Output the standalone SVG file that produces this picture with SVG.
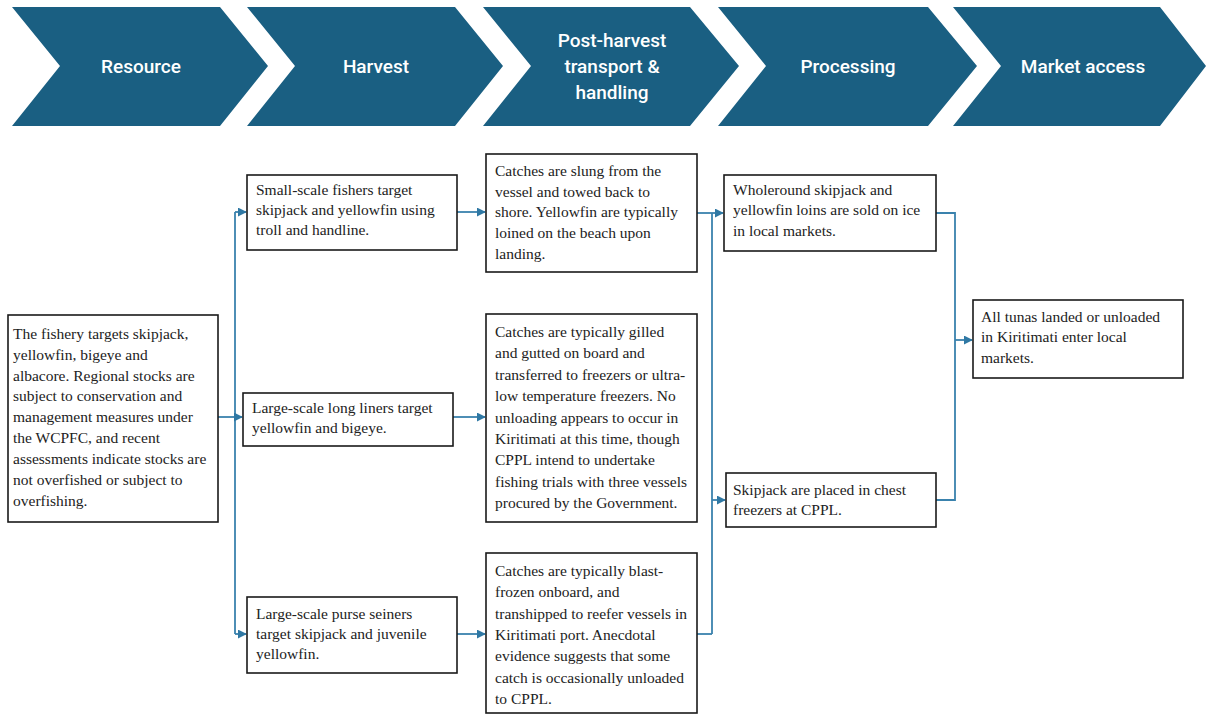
<svg xmlns="http://www.w3.org/2000/svg" width="1206" height="715" viewBox="0 0 1206 715">
  <style>
    .chev { fill: #1a5f82; }
    .stage { fill: #ffffff; font-family: Roboto, "Open Sans", sans-serif; font-weight: 500; font-size: 19px; text-anchor: middle; }
    .box { fill: #ffffff; stroke: #1a1a1a; stroke-width: 1.6; }
    .txt { fill: #222222; font-family: "Liberation Serif", "Times New Roman", serif; font-size: 15.5px; }
    .link { fill: none; stroke: #3a82ad; stroke-width: 1.8; }
  </style>
  <defs>
    <marker id="arrow" viewBox="0 0 10 10" refX="9" refY="5" markerWidth="5" markerHeight="5" orient="auto" markerUnits="strokeWidth">
      <path d="M0,0 L10,5 L0,10 Z" fill="#2f78a4"/>
    </marker>
  </defs>

  <rect width="1206" height="715" fill="#ffffff"/>

  <!-- value-chain stages -->
  <g id="stage-resource">
    <polygon class="chev" points="12,7 220,7 268,66 220,126 12,126 60,66"/>
    <text class="stage" x="141" y="73">Resource</text>
  </g>
  <g id="stage-harvest">
    <polygon class="chev" points="247,7 455,7 503,66 455,126 247,126 295,66"/>
    <text class="stage" x="376" y="73">Harvest</text>
  </g>
  <g id="stage-postharvest">
    <polygon class="chev" points="483,7 690,7 739,66 690,126 483,126 531,66"/>
    <text class="stage" x="612" y="47">Post-harvest</text>
    <text class="stage" x="612" y="73">transport &amp;</text>
    <text class="stage" x="612" y="99">handling</text>
  </g>
  <g id="stage-processing">
    <polygon class="chev" points="718,7 928,7 977,66 928,126 718,126 766,66"/>
    <text class="stage" x="848" y="73">Processing</text>
  </g>
  <g id="stage-market">
    <polygon class="chev" points="953,7 1160,7 1206,66 1160,126 953,126 1001,66"/>
    <text class="stage" x="1083" y="73">Market access</text>
  </g>

  <!-- connectors -->
  <g id="connectors">
    <path class="link" d="M218,417 H235"/>
    <path class="link" d="M235,212 V634"/>
    <path class="link" d="M235,212 H246" marker-end="url(#arrow)"/>
    <path class="link" d="M235,417 H242" marker-end="url(#arrow)"/>
    <path class="link" d="M235,634 H246" marker-end="url(#arrow)"/>

    <path class="link" d="M457,212 H485" marker-end="url(#arrow)"/>
    <path class="link" d="M453,417 H485" marker-end="url(#arrow)"/>
    <path class="link" d="M457,634 H485" marker-end="url(#arrow)"/>

    <path class="link" d="M697,213 H712"/>
    <path class="link" d="M697,634 H712"/>
    <path class="link" d="M712,213 V634"/>
    <path class="link" d="M712,213 H723" marker-end="url(#arrow)"/>
    <path class="link" d="M712,500 H725" marker-end="url(#arrow)"/>

    <path class="link" d="M936,213 H955 V500 H936"/>
    <path class="link" d="M955,340 H972" marker-end="url(#arrow)"/>
  </g>

  <!-- resource -->
  <g id="node-resource">
    <rect class="box" x="8" y="315" width="210" height="207"/>
    <text class="txt">
      <tspan x="13" y="339">The fishery targets skipjack,</tspan>
      <tspan x="13" y="360">yellowfin, bigeye and</tspan>
      <tspan x="13" y="381">albacore. Regional stocks are</tspan>
      <tspan x="13" y="401">subject to conservation and</tspan>
      <tspan x="13" y="422">management measures under</tspan>
      <tspan x="13" y="443">the WCPFC, and recent</tspan>
      <tspan x="13" y="464">assessments indicate stocks are</tspan>
      <tspan x="13" y="485">not overfished or subject to</tspan>
      <tspan x="13" y="506">overfishing.</tspan>
    </text>
  </g>

  <!-- harvest -->
  <g id="node-smallscale">
    <rect class="box" x="247" y="175" width="210" height="75"/>
    <text class="txt">
      <tspan x="256" y="195">Small-scale fishers target</tspan>
      <tspan x="256" y="215">skipjack and yellowfin using</tspan>
      <tspan x="256" y="235">troll and handline.</tspan>
    </text>
  </g>
  <g id="node-longliners">
    <rect class="box" x="243" y="393" width="210" height="53"/>
    <text class="txt">
      <tspan x="252" y="413">Large-scale long liners target</tspan>
      <tspan x="252" y="433">yellowfin and bigeye.</tspan>
    </text>
  </g>
  <g id="node-purseseiners">
    <rect class="box" x="247" y="597" width="210" height="76"/>
    <text class="txt">
      <tspan x="256" y="619">Large-scale purse seiners</tspan>
      <tspan x="256" y="639">target skipjack and juvenile</tspan>
      <tspan x="256" y="659">yellowfin.</tspan>
    </text>
  </g>

  <!-- post-harvest transport and handling -->
  <g id="node-handling-small">
    <rect class="box" x="486" y="154" width="211" height="118"/>
    <text class="txt">
      <tspan x="495" y="176">Catches are slung from the</tspan>
      <tspan x="495" y="197">vessel and towed back to</tspan>
      <tspan x="495" y="217">shore. Yellowfin are typically</tspan>
      <tspan x="495" y="238">loined on the beach upon</tspan>
      <tspan x="495" y="259">landing.</tspan>
    </text>
  </g>
  <g id="node-handling-longline">
    <rect class="box" x="486" y="314" width="211" height="208"/>
    <text class="txt">
      <tspan x="495" y="337">Catches are typically gilled</tspan>
      <tspan x="495" y="358">and gutted on board and</tspan>
      <tspan x="495" y="380">transferred to freezers or ultra-</tspan>
      <tspan x="495" y="401">low temperature freezers. No</tspan>
      <tspan x="495" y="423">unloading appears to occur in</tspan>
      <tspan x="495" y="444">Kiritimati at this time, though</tspan>
      <tspan x="495" y="465">CPPL intend to undertake</tspan>
      <tspan x="495" y="487">fishing trials with three vessels</tspan>
      <tspan x="495" y="508">procured by the Government.</tspan>
    </text>
  </g>
  <g id="node-handling-purse">
    <rect class="box" x="486" y="553" width="211" height="160"/>
    <text class="txt">
      <tspan x="495" y="576">Catches are typically blast-</tspan>
      <tspan x="495" y="597">frozen onboard, and</tspan>
      <tspan x="495" y="619">transhipped to reefer vessels in</tspan>
      <tspan x="495" y="640">Kiritimati port. Anecdotal</tspan>
      <tspan x="495" y="661">evidence suggests that some</tspan>
      <tspan x="495" y="683">catch is occasionally unloaded</tspan>
      <tspan x="495" y="704">to CPPL.</tspan>
    </text>
  </g>

  <!-- processing -->
  <g id="node-wholeround">
    <rect class="box" x="724" y="175" width="212" height="76"/>
    <text class="txt">
      <tspan x="733" y="195">Wholeround skipjack and</tspan>
      <tspan x="733" y="215">yellowfin loins are sold on ice</tspan>
      <tspan x="733" y="236">in local markets.</tspan>
    </text>
  </g>
  <g id="node-chestfreezers">
    <rect class="box" x="726" y="473" width="210" height="54"/>
    <text class="txt">
      <tspan x="733" y="495">Skipjack are placed in chest</tspan>
      <tspan x="733" y="515">freezers at CPPL.</tspan>
    </text>
  </g>

  <!-- market access -->
  <g id="node-market">
    <rect class="box" x="973" y="300" width="210" height="78"/>
    <text class="txt">
      <tspan x="981" y="322">All tunas landed or unloaded</tspan>
      <tspan x="981" y="342">in Kiritimati enter local</tspan>
      <tspan x="981" y="363">markets.</tspan>
    </text>
  </g>
</svg>
